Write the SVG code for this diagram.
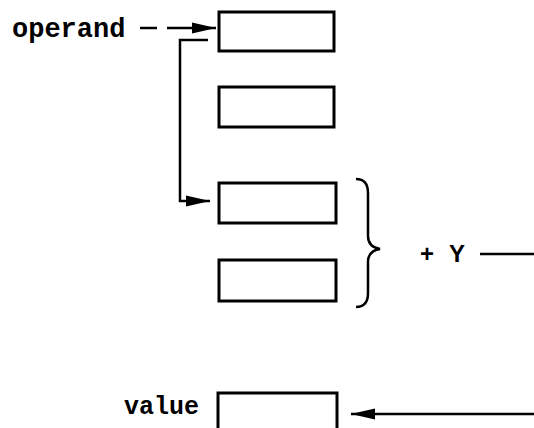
<svg xmlns="http://www.w3.org/2000/svg" width="534" height="428" viewBox="0 0 534 428">
  <style>
    .cell { fill: #fff; stroke: #000; stroke-width: 3; }
    .wire { fill: none; stroke: #000; stroke-width: 2.5; }
    .mono { font-family: "Liberation Mono", "DejaVu Sans Mono", monospace; font-weight: bold; fill: #000; }
    .sans { font-family: "Liberation Sans", Arial, sans-serif; font-weight: bold; fill: #000; }
  </style>
  <defs>
    <marker id="head" viewBox="0 0 10 10" refX="10" refY="5" markerWidth="24" markerHeight="12" markerUnits="userSpaceOnUse" preserveAspectRatio="none" orient="auto">
      <path d="M0,0.5 L10,5 L0,9.5 z" fill="#000"/>
    </marker>
  </defs>
  <rect width="534" height="428" fill="#fff"/>

  <g id="label-operand"><text class="mono" x="12" y="37" font-size="27">operand</text></g>
  <g id="cell-1"><rect class="cell" x="219" y="12" width="115" height="39"/></g>
  <g id="cell-2"><rect class="cell" x="219" y="87" width="115" height="40"/></g>
  <g id="cell-3"><rect class="cell" x="219" y="183" width="117" height="40"/></g>
  <g id="cell-4"><rect class="cell" x="219" y="260" width="117" height="41"/></g>
  <g id="cell-value"><rect class="cell" x="218" y="393" width="119" height="40"/></g>
  <g id="label-value"><text class="mono" x="124" y="414" font-size="25">value</text></g>
  <g id="brace">
    <path class="wire" stroke-width="3" d="M356,179 Q368,179 368,193 L368,236 Q368,247 380,249 Q368,251 368,262 L368,293 Q368,307 356,307"/>
  </g>
  <g id="label-offset">
    <text class="sans" x="420" y="262" font-size="24">+</text>
    <text class="sans" x="449" y="262" font-size="24">Y</text>
  </g>

  <g id="connectors">
    <!-- dashed pointer into the first cell -->
    <line class="wire" x1="140" y1="28" x2="157" y2="28"/>
    <line class="wire" x1="167" y1="28" x2="216" y2="28" marker-end="url(#head)"/>
    <!-- indirection from first cell down to the third -->
    <path class="wire" d="M208,40 L180,40 L180,201 L210,201" marker-end="url(#head)"/>
    <!-- offset line -->
    <line class="wire" x1="480" y1="254" x2="534" y2="254"/>
    <!-- result arrow into value -->
    <line class="wire" x1="534" y1="414" x2="351" y2="414" marker-end="url(#head)"/>
  </g>
</svg>
